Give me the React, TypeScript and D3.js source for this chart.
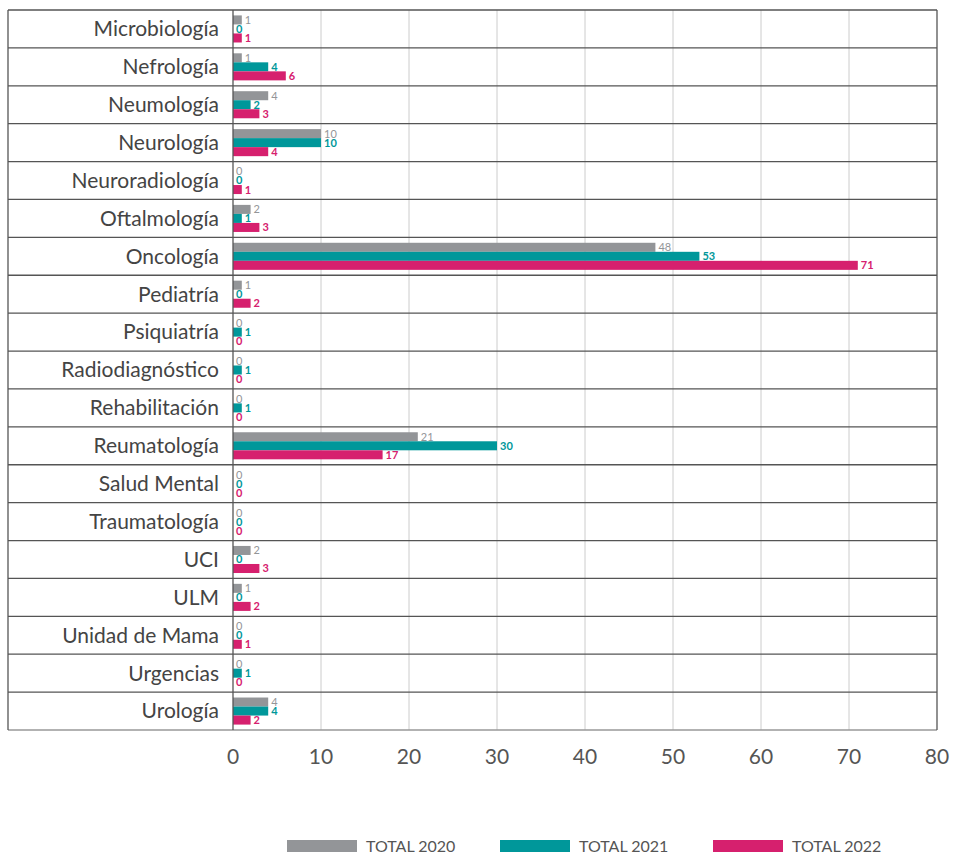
import { useRef, useEffect } from "react";
import * as d3 from "d3";

const categories = [
  "Microbiología", "Nefrología", "Neumología", "Neurología", "Neuroradiología",
  "Oftalmología", "Oncología", "Pediatría", "Psiquiatría", "Radiodiagnóstico",
  "Rehabilitación", "Reumatología", "Salud Mental", "Traumatología", "UCI",
  "ULM", "Unidad de Mama", "Urgencias", "Urología",
];
const seriesNames = ["TOTAL 2020", "TOTAL 2021", "TOTAL 2022"];
const total2020 = [1, 1, 4, 10, 0, 2, 48, 1, 0, 0, 0, 21, 0, 0, 2, 1, 0, 0, 4];
const total2021 = [0, 4, 2, 10, 0, 1, 53, 0, 1, 1, 1, 30, 0, 0, 0, 0, 0, 1, 4];
const total2022 = [1, 6, 3, 4, 1, 3, 71, 2, 0, 0, 0, 17, 0, 0, 3, 2, 1, 0, 2];
const xTicks = [0, 10, 20, 30, 40, 50, 60, 70, 80];

const colors = ["#939598", "#00979a", "#d6206e"];
const labelColors = ["#939598", "#00979a", "#d6206e"];

export default function App() {
  const svgRef = useRef(null);

  useEffect(() => {
    document.body.style.margin = "0";
    const W = 953, H = 853;
    const left = 8, plotLeft = 233, right = 937, top = 10, bottom = 730;
    const svg = d3.select(svgRef.current);
    svg.attr("width", W).attr("height", H).attr("viewBox", [0, 0, W, H]);
    svg.selectAll("*").remove();

    const font = "Lato, 'Open Sans', sans-serif";
    const values = [total2020, total2021, total2022];

    const x = d3.scaleLinear().domain([0, 80]).range([plotLeft, right]);
    const y = d3.scaleBand().domain(categories).range([top, bottom]).padding(0);
    const y1 = d3.scaleBand().domain(seriesNames).range([0, y.bandwidth()])
      .paddingInner(0).paddingOuter(0.6);

    // vertical gridlines
    svg.append("g").selectAll("line")
      .data(xTicks.filter(t => t > 0 && t < 80))
      .join("line")
      .attr("x1", d => x(d)).attr("x2", d => x(d))
      .attr("y1", top).attr("y2", bottom)
      .attr("stroke", "#cccccc").attr("stroke-width", 1);

    // row separators
    svg.append("g").selectAll("line")
      .data(categories.slice(1))
      .join("line")
      .attr("x1", left).attr("x2", right)
      .attr("y1", d => y(d)).attr("y2", d => y(d))
      .attr("stroke", "#555555").attr("stroke-width", 1.3);

    // border
    const border = svg.append("g").attr("stroke-width", 1.3).attr("fill", "none");
    border.append("line").attr("x1", left).attr("x2", right).attr("y1", top).attr("y2", top).attr("stroke", "#555");
    border.append("line").attr("x1", left).attr("x2", right).attr("y1", bottom).attr("y2", bottom).attr("stroke", "#999");
    border.append("line").attr("x1", left).attr("x2", left).attr("y1", top).attr("y2", bottom).attr("stroke", "#555");
    border.append("line").attr("x1", right).attr("x2", right).attr("y1", top).attr("y2", bottom).attr("stroke", "#555");

    // bars
    const rows = svg.append("g").selectAll("g")
      .data(categories)
      .join("g")
      .attr("transform", d => `translate(0,${y(d)})`);

    seriesNames.forEach((s, si) => {
      rows.append("rect")
        .attr("x", x(0))
        .attr("y", y1(s))
        .attr("height", y1.bandwidth())
        .attr("width", (_, i) => x(values[si][i]) - x(0))
        .attr("fill", colors[si]);
      rows.append("text")
        .attr("x", (_, i) => x(values[si][i]) + 3)
        .attr("y", y1(s) + y1.bandwidth() / 2)
        .attr("dy", "0.36em")
        .attr("font-family", font)
        .attr("font-size", 11)
        .attr("font-weight", si === 0 ? 400 : 700)
        .attr("fill", labelColors[si])
        .text((_, i) => values[si][i]);
    });

    // axis line at 0
    svg.append("line")
      .attr("x1", x(0)).attr("x2", x(0)).attr("y1", top).attr("y2", bottom)
      .attr("stroke", "#555").attr("stroke-width", 1.3);

    // category labels
    svg.append("g").selectAll("text")
      .data(categories)
      .join("text")
      .attr("x", plotLeft - 14)
      .attr("y", d => y(d) + y.bandwidth() / 2)
      .attr("dy", "0.35em")
      .attr("text-anchor", "end")
      .attr("font-family", font)
      .attr("font-size", 21)
      .attr("fill", "#444")
      .text(d => d);

    // x tick labels
    svg.append("g").selectAll("text")
      .data(xTicks)
      .join("text")
      .attr("x", d => x(d))
      .attr("y", 757)
      .attr("dy", "0.35em")
      .attr("text-anchor", "middle")
      .attr("font-family", font)
      .attr("font-size", 21)
      .attr("fill", "#555")
      .text(d => d);

    // legend
    const legendX = [287, 500, 713];
    const legend = svg.append("g").selectAll("g")
      .data(seriesNames)
      .join("g")
      .attr("transform", (_, i) => `translate(${legendX[i]},840)`);
    legend.append("rect")
      .attr("width", 70).attr("height", 12)
      .attr("fill", (_, i) => colors[i]);
    legend.append("text")
      .attr("x", 79).attr("y", 6)
      .attr("dy", "0.36em")
      .attr("font-family", font)
      .attr("font-size", 16)
      .attr("fill", "#555")
      .text(d => d);
  }, []);

  return <svg ref={svgRef}></svg>;
}
